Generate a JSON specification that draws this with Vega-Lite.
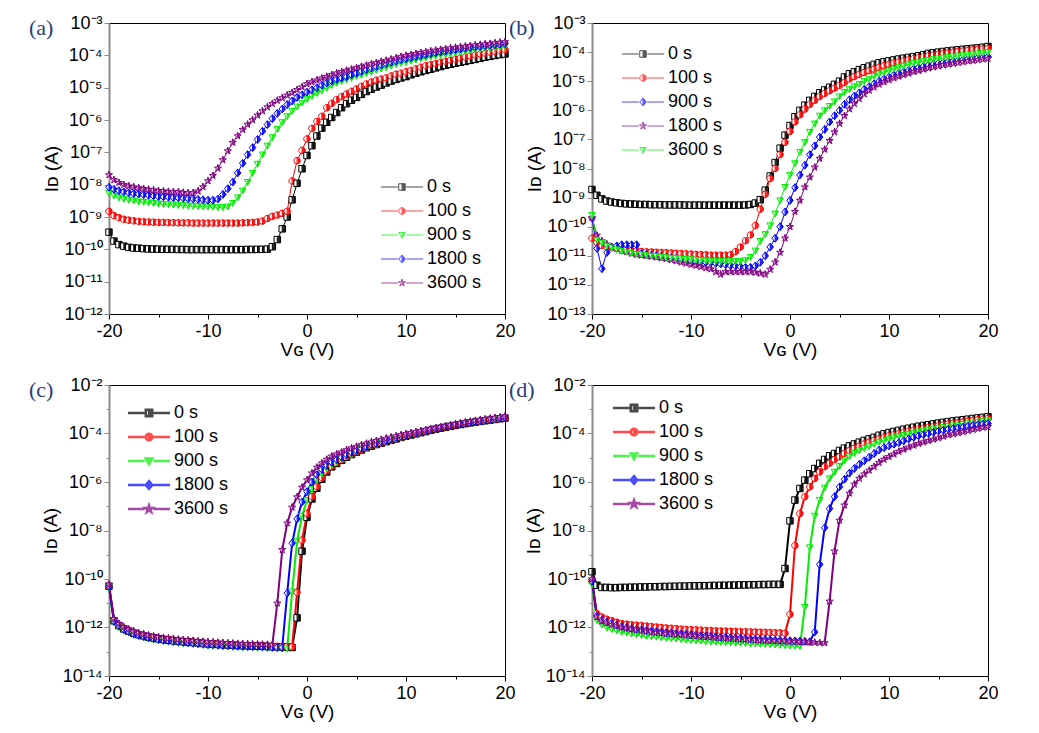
{
"$schema": "https://vega.github.io/schema/vega-lite/v6.json",
"background": "white",
"padding": {"left": 28, "top": 13, "right": 5, "bottom": 5},
"config": {
 "font": "Liberation Sans",
 "view": {"stroke": "black", "strokeWidth": 1},
 "axis": {"labelFont": "Liberation Sans", "titleFont": "Liberation Sans", "labelColor": "black", "titleColor": "black", "titleFontWeight": "normal", "grid": false, "domainColor": "black", "tickColor": "black", "labelFlush": false, "labelOverlap": false},
 "axisX": {"labelFontSize": 18, "titleFontSize": 19, "labelPadding": 3, "titlePadding": 0},
 "axisY": {"labelFontSize": 18, "titleFontSize": 19, "tickSize": 5, "labelPadding": 2, "titlePadding": 2, "domainColor": "#8c8c8c", "domainWidth": 2, "tickColor": "#8c8c8c"},
 "legend": {"labelFont": "Liberation Sans", "labelFontSize": 18, "labelColor": "black", "padding": 0, "rowPadding": 6, "symbolSize": 42, "labelOffset": 16},
 "title": {"font": "Liberation Serif", "fontSize": 22, "fontWeight": "normal", "color": "#24407a", "anchor": "start", "baseline": "middle", "frame": "group"}
},
"datasets": {
"a": [
{"x":-20,"0 s":3.4e-10,"100 s":1.5e-9,"900 s":5.5e-9,"1800 s":8.3e-9,"3600 s":2e-8},
{"x":-19.5,"0 s":1.8e-10,"100 s":1.1e-9,"900 s":4.6e-9,"1800 s":7.2e-9,"3600 s":1.4e-8},
{"x":-19,"0 s":1.4e-10,"100 s":9.5e-10,"900 s":4e-9,"1800 s":6.5e-9,"3600 s":1.15e-8},
{"x":-18.5,"0 s":1.25e-10,"100 s":8.5e-10,"900 s":3.6e-9,"1800 s":6e-9,"3600 s":1e-8},
{"x":-18,"0 s":1.15e-10,"100 s":8e-10,"900 s":3.4e-9,"1800 s":5.6e-9,"3600 s":9e-9},
{"x":-17.5,"0 s":1.1e-10,"100 s":7.6e-10,"900 s":3.2e-9,"1800 s":5.3e-9,"3600 s":8.4e-9},
{"x":-17,"0 s":1.08e-10,"100 s":7.3e-10,"900 s":3e-9,"1800 s":5.1e-9,"3600 s":7.9e-9},
{"x":-16.5,"0 s":1.05e-10,"100 s":7.1e-10,"900 s":2.9e-9,"1800 s":4.9e-9,"3600 s":7.5e-9},
{"x":-16,"0 s":1.03e-10,"100 s":7e-10,"900 s":2.8e-9,"1800 s":4.7e-9,"3600 s":7.1e-9},
{"x":-15.5,"0 s":1.02e-10,"100 s":6.9e-10,"900 s":2.7e-9,"1800 s":4.5e-9,"3600 s":6.8e-9},
{"x":-15,"0 s":1.01e-10,"100 s":6.8e-10,"900 s":2.6e-9,"1800 s":4.3e-9,"3600 s":6.5e-9},
{"x":-14.5,"0 s":1e-10,"100 s":6.8e-10,"900 s":2.5e-9,"1800 s":4.2e-9,"3600 s":6.3e-9},
{"x":-14,"0 s":1e-10,"100 s":6.7e-10,"900 s":2.45e-9,"1800 s":4.1e-9,"3600 s":6.1e-9},
{"x":-13.5,"0 s":1e-10,"100 s":6.7e-10,"900 s":2.4e-9,"1800 s":4e-9,"3600 s":6e-9},
{"x":-13,"0 s":9.9e-11,"100 s":6.6e-10,"900 s":2.35e-9,"1800 s":3.9e-9,"3600 s":5.9e-9},
{"x":-12.5,"0 s":9.9e-11,"100 s":6.6e-10,"900 s":2.3e-9,"1800 s":3.8e-9,"3600 s":5.7e-9},
{"x":-12,"0 s":9.8e-11,"100 s":6.6e-10,"900 s":2.25e-9,"1800 s":3.7e-9,"3600 s":5.6e-9},
{"x":-11.5,"0 s":9.8e-11,"100 s":6.5e-10,"900 s":2.2e-9,"1800 s":3.6e-9,"3600 s":5.6e-9},
{"x":-11,"0 s":9.8e-11,"100 s":6.5e-10,"900 s":2.15e-9,"1800 s":3.5e-9,"3600 s":6.3e-9},
{"x":-10.5,"0 s":9.8e-11,"100 s":6.5e-10,"900 s":2.1e-9,"1800 s":3.4e-9,"3600 s":8.5e-9},
{"x":-10,"0 s":9.8e-11,"100 s":6.5e-10,"900 s":2.1e-9,"1800 s":3.3e-9,"3600 s":1.3e-8},
{"x":-9.5,"0 s":9.8e-11,"100 s":6.5e-10,"900 s":2.05e-9,"1800 s":3.3e-9,"3600 s":1.9e-8},
{"x":-9,"0 s":9.8e-11,"100 s":6.5e-10,"900 s":2e-9,"1800 s":3.6e-9,"3600 s":3.2e-8},
{"x":-8.5,"0 s":9.8e-11,"100 s":6.5e-10,"900 s":2e-9,"1800 s":5e-9,"3600 s":5.8e-8},
{"x":-8,"0 s":9.8e-11,"100 s":6.5e-10,"900 s":2.1e-9,"1800 s":7.5e-9,"3600 s":1.1e-7},
{"x":-7.5,"0 s":9.8e-11,"100 s":6.5e-10,"900 s":2.7e-9,"1800 s":1.2e-8,"3600 s":2e-7},
{"x":-7,"0 s":9.8e-11,"100 s":6.5e-10,"900 s":4e-9,"1800 s":2.3e-8,"3600 s":3.2e-7},
{"x":-6.5,"0 s":9.8e-11,"100 s":6.6e-10,"900 s":6.5e-9,"1800 s":4.6e-8,"3600 s":5e-7},
{"x":-6,"0 s":9.9e-11,"100 s":6.7e-10,"900 s":1.2e-8,"1800 s":8.5e-8,"3600 s":7.3e-7},
{"x":-5.5,"0 s":9.9e-11,"100 s":6.8e-10,"900 s":2.3e-8,"1800 s":1.4e-7,"3600 s":1e-6},
{"x":-5,"0 s":1e-10,"100 s":7e-10,"900 s":4.4e-8,"1800 s":2.5e-7,"3600 s":1.4e-6},
{"x":-4.5,"0 s":1e-10,"100 s":7.5e-10,"900 s":8.5e-8,"1800 s":4.5e-7,"3600 s":1.9e-6},
{"x":-4,"0 s":1.02e-10,"100 s":9e-10,"900 s":1.6e-7,"1800 s":7.2e-7,"3600 s":2.5e-6},
{"x":-3.5,"0 s":1.2e-10,"100 s":1.05e-9,"900 s":2.9e-7,"1800 s":1.1e-6,"3600 s":3.2e-6},
{"x":-3,"0 s":2e-10,"100 s":1.15e-9,"900 s":5.2e-7,"1800 s":1.6e-6,"3600 s":4e-6},
{"x":-2.5,"0 s":4.3e-10,"100 s":1.3e-9,"900 s":8.5e-7,"1800 s":2.2e-6,"3600 s":4.8e-6},
{"x":-2,"0 s":1e-9,"100 s":1.5e-9,"900 s":1.3e-6,"1800 s":3e-6,"3600 s":5.8e-6},
{"x":-1.5,"0 s":3.4e-9,"100 s":1.3e-8,"900 s":1.9e-6,"1800 s":3.9e-6,"3600 s":7e-6},
{"x":-1,"0 s":1.1e-8,"100 s":5.5e-8,"900 s":2.6e-6,"1800 s":5e-6,"3600 s":8.6e-6},
{"x":-0.5,"0 s":3.1e-8,"100 s":1.15e-7,"900 s":3.4e-6,"1800 s":6e-6,"3600 s":1.05e-5},
{"x":0,"0 s":8e-8,"100 s":2.6e-7,"900 s":4.4e-6,"1800 s":7.3e-6,"3600 s":1.3e-5},
{"x":0.5,"0 s":1.6e-7,"100 s":5.5e-7,"900 s":5.5e-6,"1800 s":8.6e-6,"3600 s":1.5e-5},
{"x":1,"0 s":3.2e-7,"100 s":9e-7,"900 s":6.8e-6,"1800 s":1e-5,"3600 s":1.7e-5},
{"x":1.5,"0 s":5.6e-7,"100 s":1.3e-6,"900 s":8.2e-6,"1800 s":1.2e-5,"3600 s":1.95e-5},
{"x":2,"0 s":8.5e-7,"100 s":2.4e-6,"900 s":1e-5,"1800 s":1.4e-5,"3600 s":2.2e-5},
{"x":2.5,"0 s":1.2e-6,"100 s":3.3e-6,"900 s":1.2e-5,"1800 s":1.6e-5,"3600 s":2.5e-5},
{"x":3,"0 s":1.7e-6,"100 s":4.3e-6,"900 s":1.4e-5,"1800 s":1.8e-5,"3600 s":2.8e-5},
{"x":3.5,"0 s":2.4e-6,"100 s":5.3e-6,"900 s":1.6e-5,"1800 s":2e-5,"3600 s":3.1e-5},
{"x":4,"0 s":3.2e-6,"100 s":6.4e-6,"900 s":1.8e-5,"1800 s":2.2e-5,"3600 s":3.4e-5},
{"x":4.5,"0 s":4.1e-6,"100 s":7.7e-6,"900 s":2e-5,"1800 s":2.5e-5,"3600 s":3.7e-5},
{"x":5,"0 s":5e-6,"100 s":9.2e-6,"900 s":2.3e-5,"1800 s":2.8e-5,"3600 s":4.1e-5},
{"x":5.5,"0 s":6.2e-6,"100 s":1.1e-5,"900 s":2.5e-5,"1800 s":3.2e-5,"3600 s":4.5e-5},
{"x":6,"0 s":7.6e-6,"100 s":1.3e-5,"900 s":2.8e-5,"1800 s":3.6e-5,"3600 s":4.9e-5},
{"x":6.5,"0 s":9e-6,"100 s":1.5e-5,"900 s":3.1e-5,"1800 s":4e-5,"3600 s":5.4e-5},
{"x":7,"0 s":1.05e-5,"100 s":1.7e-5,"900 s":3.5e-5,"1800 s":4.5e-5,"3600 s":5.9e-5},
{"x":7.5,"0 s":1.2e-5,"100 s":1.85e-5,"900 s":3.9e-5,"1800 s":5e-5,"3600 s":6.4e-5},
{"x":8,"0 s":1.4e-5,"100 s":2e-5,"900 s":4.3e-5,"1800 s":5.5e-5,"3600 s":6.9e-5},
{"x":8.5,"0 s":1.6e-5,"100 s":2.3e-5,"900 s":4.8e-5,"1800 s":6.1e-5,"3600 s":7.5e-5},
{"x":9,"0 s":1.8e-5,"100 s":2.6e-5,"900 s":5.3e-5,"1800 s":6.7e-5,"3600 s":8.2e-5},
{"x":9.5,"0 s":2e-5,"100 s":2.8e-5,"900 s":5.8e-5,"1800 s":7.3e-5,"3600 s":9e-5},
{"x":10,"0 s":2.2e-5,"100 s":3.1e-5,"900 s":6.2e-5,"1800 s":7.9e-5,"3600 s":9.8e-5},
{"x":10.5,"0 s":2.5e-5,"100 s":3.4e-5,"900 s":6.7e-5,"1800 s":8.5e-5,"3600 s":1.05e-4},
{"x":11,"0 s":2.8e-5,"100 s":3.8e-5,"900 s":7.3e-5,"1800 s":9.1e-5,"3600 s":1.12e-4},
{"x":11.5,"0 s":3.1e-5,"100 s":4.3e-5,"900 s":7.9e-5,"1800 s":9.8e-5,"3600 s":1.2e-4},
{"x":12,"0 s":3.4e-5,"100 s":4.8e-5,"900 s":8.5e-5,"1800 s":1.05e-4,"3600 s":1.27e-4},
{"x":12.5,"0 s":3.7e-5,"100 s":5.2e-5,"900 s":9e-5,"1800 s":1.12e-4,"3600 s":1.35e-4},
{"x":13,"0 s":4.1e-5,"100 s":5.6e-5,"900 s":9.6e-5,"1800 s":1.2e-4,"3600 s":1.43e-4},
{"x":13.5,"0 s":4.5e-5,"100 s":6.1e-5,"900 s":1.02e-4,"1800 s":1.27e-4,"3600 s":1.5e-4},
{"x":14,"0 s":4.9e-5,"100 s":6.6e-5,"900 s":1.08e-4,"1800 s":1.35e-4,"3600 s":1.58e-4},
{"x":14.5,"0 s":5.3e-5,"100 s":7.1e-5,"900 s":1.14e-4,"1800 s":1.43e-4,"3600 s":1.66e-4},
{"x":15,"0 s":5.7e-5,"100 s":7.6e-5,"900 s":1.2e-4,"1800 s":1.5e-4,"3600 s":1.74e-4},
{"x":15.5,"0 s":6.1e-5,"100 s":8.2e-5,"900 s":1.27e-4,"1800 s":1.58e-4,"3600 s":1.82e-4},
{"x":16,"0 s":6.5e-5,"100 s":8.9e-5,"900 s":1.35e-4,"1800 s":1.66e-4,"3600 s":1.9e-4},
{"x":16.5,"0 s":7e-5,"100 s":9.5e-5,"900 s":1.42e-4,"1800 s":1.74e-4,"3600 s":1.98e-4},
{"x":17,"0 s":7.5e-5,"100 s":1.02e-4,"900 s":1.5e-4,"1800 s":1.82e-4,"3600 s":2.06e-4},
{"x":17.5,"0 s":8.1e-5,"100 s":1.1e-4,"900 s":1.58e-4,"1800 s":1.9e-4,"3600 s":2.14e-4},
{"x":18,"0 s":8.8e-5,"100 s":1.17e-4,"900 s":1.66e-4,"1800 s":1.98e-4,"3600 s":2.22e-4},
{"x":18.5,"0 s":9.3e-5,"100 s":1.25e-4,"900 s":1.73e-4,"1800 s":2.06e-4,"3600 s":2.3e-4},
{"x":19,"0 s":9.9e-5,"100 s":1.33e-4,"900 s":1.8e-4,"1800 s":2.14e-4,"3600 s":2.4e-4},
{"x":19.5,"0 s":1.05e-4,"100 s":1.41e-4,"900 s":1.87e-4,"1800 s":2.22e-4,"3600 s":2.5e-4},
{"x":20,"0 s":1.1e-4,"100 s":1.5e-4,"900 s":1.95e-4,"1800 s":2.3e-4,"3600 s":2.6e-4}
],
"b": [
{"x":-20,"0 s":1.9e-9,"100 s":4e-11,"900 s":2e-10,"1800 s":2e-10,"3600 s":2.5e-10},
{"x":-19.5,"0 s":1.2e-9,"100 s":2.8e-11,"900 s":1.8e-11,"1800 s":5e-11,"3600 s":3.5e-11},
{"x":-19,"0 s":9e-10,"100 s":2.3e-11,"900 s":3.6e-12,"1800 s":3.2e-11,"3600 s":2.8e-11},
{"x":-18.5,"0 s":7.6e-10,"100 s":2e-11,"900 s":1.3e-11,"1800 s":2.5e-11,"3600 s":2.2e-11},
{"x":-18,"0 s":7e-10,"100 s":1.9e-11,"900 s":2e-11,"1800 s":2e-11,"3600 s":1.9e-11},
{"x":-17.5,"0 s":6.6e-10,"100 s":1.8e-11,"900 s":2.2e-11,"1800 s":1.75e-11,"3600 s":1.65e-11},
{"x":-17,"0 s":6.3e-10,"100 s":1.7e-11,"900 s":2.4e-11,"1800 s":1.5e-11,"3600 s":1.45e-11},
{"x":-16.5,"0 s":6.1e-10,"100 s":1.6e-11,"900 s":2.4e-11,"1800 s":1.35e-11,"3600 s":1.35e-11},
{"x":-16,"0 s":6e-10,"100 s":1.5e-11,"900 s":2.4e-11,"1800 s":1.2e-11,"3600 s":1.25e-11},
{"x":-15.5,"0 s":5.9e-10,"100 s":1.45e-11,"900 s":2.4e-11,"1800 s":1.1e-11,"3600 s":1.15e-11},
{"x":-15,"0 s":5.8e-10,"100 s":1.4e-11,"900 s":1.2e-11,"1800 s":1.05e-11,"3600 s":1.1e-11},
{"x":-14.5,"0 s":5.8e-10,"100 s":1.37e-11,"900 s":1.1e-11,"1800 s":1e-11,"3600 s":1.05e-11},
{"x":-14,"0 s":5.7e-10,"100 s":1.35e-11,"900 s":1.05e-11,"1800 s":9.5e-12,"3600 s":1e-11},
{"x":-13.5,"0 s":5.7e-10,"100 s":1.32e-11,"900 s":1e-11,"1800 s":9e-12,"3600 s":9.6e-12},
{"x":-13,"0 s":5.7e-10,"100 s":1.3e-11,"900 s":9.5e-12,"1800 s":8.5e-12,"3600 s":9.3e-12},
{"x":-12.5,"0 s":5.6e-10,"100 s":1.27e-11,"900 s":9e-12,"1800 s":7.8e-12,"3600 s":8.9e-12},
{"x":-12,"0 s":5.6e-10,"100 s":1.25e-11,"900 s":8.5e-12,"1800 s":7.2e-12,"3600 s":8.5e-12},
{"x":-11.5,"0 s":5.6e-10,"100 s":1.22e-11,"900 s":8e-12,"1800 s":6.6e-12,"3600 s":8.2e-12},
{"x":-11,"0 s":5.6e-10,"100 s":1.2e-11,"900 s":7.5e-12,"1800 s":6e-12,"3600 s":8e-12},
{"x":-10.5,"0 s":5.5e-10,"100 s":1.17e-11,"900 s":7.1e-12,"1800 s":5.5e-12,"3600 s":7.7e-12},
{"x":-10,"0 s":5.5e-10,"100 s":1.15e-11,"900 s":6.8e-12,"1800 s":5e-12,"3600 s":7.5e-12},
{"x":-9.5,"0 s":5.5e-10,"100 s":1.12e-11,"900 s":6.5e-12,"1800 s":4.6e-12,"3600 s":7.2e-12},
{"x":-9,"0 s":5.5e-10,"100 s":1.1e-11,"900 s":6.2e-12,"1800 s":4.2e-12,"3600 s":7e-12},
{"x":-8.5,"0 s":5.5e-10,"100 s":1.08e-11,"900 s":6e-12,"1800 s":3.8e-12,"3600 s":6.8e-12},
{"x":-8,"0 s":5.5e-10,"100 s":1.05e-11,"900 s":5.8e-12,"1800 s":3.5e-12,"3600 s":6.7e-12},
{"x":-7.5,"0 s":5.5e-10,"100 s":1.05e-11,"900 s":5.5e-12,"1800 s":2.8e-12,"3600 s":6.6e-12},
{"x":-7,"0 s":5.5e-10,"100 s":1.05e-11,"900 s":5.2e-12,"1800 s":2.3e-12,"3600 s":6.5e-12},
{"x":-6.5,"0 s":5.5e-10,"100 s":1.05e-11,"900 s":4.9e-12,"1800 s":2.8e-12,"3600 s":6.5e-12},
{"x":-6,"0 s":5.5e-10,"100 s":1.1e-11,"900 s":4.6e-12,"1800 s":2.8e-12,"3600 s":6.5e-12},
{"x":-5.5,"0 s":5.5e-10,"100 s":1.4e-11,"900 s":4.4e-12,"1800 s":2.8e-12,"3600 s":6.5e-12},
{"x":-5,"0 s":5.5e-10,"100 s":2e-11,"900 s":4.2e-12,"1800 s":2.8e-12,"3600 s":6.6e-12},
{"x":-4.5,"0 s":5.6e-10,"100 s":3.3e-11,"900 s":4e-12,"1800 s":2.8e-12,"3600 s":7e-12},
{"x":-4,"0 s":5.8e-10,"100 s":5.2e-11,"900 s":4e-12,"1800 s":2.8e-12,"3600 s":9e-12},
{"x":-3.5,"0 s":6.5e-10,"100 s":1.1e-10,"900 s":4.5e-12,"1800 s":2.7e-12,"3600 s":1.5e-11},
{"x":-3,"0 s":8.5e-10,"100 s":4e-10,"900 s":6e-12,"1800 s":2.5e-12,"3600 s":3.2e-11},
{"x":-2.5,"0 s":1.8e-9,"100 s":1.3e-9,"900 s":1e-11,"1800 s":2.3e-12,"3600 s":5.5e-11},
{"x":-2,"0 s":5.5e-9,"100 s":4.5e-9,"900 s":2e-11,"1800 s":3.4e-12,"3600 s":1.1e-10},
{"x":-1.5,"0 s":1.6e-8,"100 s":1e-8,"900 s":4e-11,"1800 s":6e-12,"3600 s":2.8e-10},
{"x":-1,"0 s":5e-8,"100 s":3e-8,"900 s":1e-10,"1800 s":1.3e-11,"3600 s":8e-10},
{"x":-0.5,"0 s":1.4e-7,"100 s":8e-8,"900 s":3.2e-10,"1800 s":4e-11,"3600 s":2.3e-9},
{"x":0,"0 s":3e-7,"100 s":1.9e-7,"900 s":8e-10,"1800 s":1e-10,"3600 s":6e-9},
{"x":0.5,"0 s":6e-7,"100 s":4e-7,"900 s":2.2e-9,"1800 s":3.3e-10,"3600 s":1.5e-8},
{"x":1,"0 s":1e-6,"100 s":7e-7,"900 s":6e-9,"1800 s":8e-10,"3600 s":3.7e-8},
{"x":1.5,"0 s":1.5e-6,"100 s":1.1e-6,"900 s":1.3e-8,"1800 s":2.3e-9,"3600 s":8e-8},
{"x":2,"0 s":2.2e-6,"100 s":1.6e-6,"900 s":3e-8,"1800 s":5e-9,"3600 s":1.8e-7},
{"x":2.5,"0 s":3e-6,"100 s":2.2e-6,"900 s":6e-8,"1800 s":1.1e-8,"3600 s":3.5e-7},
{"x":3,"0 s":4e-6,"100 s":3e-6,"900 s":1.2e-7,"1800 s":2.2e-8,"3600 s":6.5e-7},
{"x":3.5,"0 s":5e-6,"100 s":3.8e-6,"900 s":2.2e-7,"1800 s":4.5e-8,"3600 s":1e-6},
{"x":4,"0 s":6.2e-6,"100 s":4.7e-6,"900 s":4e-7,"1800 s":9e-8,"3600 s":1.4e-6},
{"x":4.5,"0 s":7.8e-6,"100 s":5.8e-6,"900 s":6.5e-7,"1800 s":1.8e-7,"3600 s":2e-6},
{"x":5,"0 s":1e-5,"100 s":7.2e-6,"900 s":1e-6,"1800 s":3.5e-7,"3600 s":3e-6},
{"x":5.5,"0 s":1.4e-5,"100 s":9e-6,"900 s":1.6e-6,"1800 s":6.5e-7,"3600 s":4.2e-6},
{"x":6,"0 s":1.8e-5,"100 s":1.2e-5,"900 s":2.3e-6,"1800 s":1.1e-6,"3600 s":5.3e-6},
{"x":6.5,"0 s":2.1e-5,"100 s":1.45e-5,"900 s":3.1e-6,"1800 s":1.7e-6,"3600 s":6.6e-6},
{"x":7,"0 s":2.5e-5,"100 s":1.7e-5,"900 s":4e-6,"1800 s":2.5e-6,"3600 s":8e-6},
{"x":7.5,"0 s":2.9e-5,"100 s":2e-5,"900 s":5.2e-6,"1800 s":3.6e-6,"3600 s":1e-5},
{"x":8,"0 s":3.3e-5,"100 s":2.3e-5,"900 s":6.5e-6,"1800 s":4.8e-6,"3600 s":1.2e-5},
{"x":8.5,"0 s":3.8e-5,"100 s":2.6e-5,"900 s":8.2e-6,"1800 s":6.2e-6,"3600 s":1.5e-5},
{"x":9,"0 s":4.3e-5,"100 s":3e-5,"900 s":1e-5,"1800 s":7.8e-6,"3600 s":1.8e-5},
{"x":9.5,"0 s":4.7e-5,"100 s":3.4e-5,"900 s":1.2e-5,"1800 s":9.3e-6,"3600 s":2e-5},
{"x":10,"0 s":5e-5,"100 s":3.8e-5,"900 s":1.4e-5,"1800 s":1.1e-5,"3600 s":2.3e-5},
{"x":10.5,"0 s":5.4e-5,"100 s":4.2e-5,"900 s":1.65e-5,"1800 s":1.28e-5,"3600 s":2.65e-5},
{"x":11,"0 s":5.8e-5,"100 s":4.6e-5,"900 s":1.9e-5,"1800 s":1.45e-5,"3600 s":3e-5},
{"x":11.5,"0 s":6.2e-5,"100 s":5e-5,"900 s":2.15e-5,"1800 s":1.65e-5,"3600 s":3.4e-5},
{"x":12,"0 s":6.6e-5,"100 s":5.5e-5,"900 s":2.4e-5,"1800 s":1.85e-5,"3600 s":3.8e-5},
{"x":12.5,"0 s":7e-5,"100 s":6e-5,"900 s":2.7e-5,"1800 s":2.1e-5,"3600 s":4.2e-5},
{"x":13,"0 s":7.5e-5,"100 s":6.5e-5,"900 s":3e-5,"1800 s":2.3e-5,"3600 s":4.6e-5},
{"x":13.5,"0 s":8.2e-5,"100 s":7e-5,"900 s":3.3e-5,"1800 s":2.55e-5,"3600 s":5e-5},
{"x":14,"0 s":9e-5,"100 s":7.5e-5,"900 s":3.6e-5,"1800 s":2.8e-5,"3600 s":5.3e-5},
{"x":14.5,"0 s":9.5e-5,"100 s":8e-5,"900 s":3.9e-5,"1800 s":3.05e-5,"3600 s":5.7e-5},
{"x":15,"0 s":1e-4,"100 s":8.5e-5,"900 s":4.2e-5,"1800 s":3.3e-5,"3600 s":6e-5},
{"x":15.5,"0 s":1.05e-4,"100 s":9e-5,"900 s":4.5e-5,"1800 s":3.55e-5,"3600 s":6.4e-5},
{"x":16,"0 s":1.1e-4,"100 s":9.5e-5,"900 s":4.8e-5,"1800 s":3.8e-5,"3600 s":6.8e-5},
{"x":16.5,"0 s":1.15e-4,"100 s":1e-4,"900 s":5e-5,"1800 s":4.05e-5,"3600 s":7.1e-5},
{"x":17,"0 s":1.2e-4,"100 s":1.05e-4,"900 s":5.3e-5,"1800 s":4.3e-5,"3600 s":7.5e-5},
{"x":17.5,"0 s":1.25e-4,"100 s":1.1e-4,"900 s":5.6e-5,"1800 s":4.6e-5,"3600 s":7.8e-5},
{"x":18,"0 s":1.3e-4,"100 s":1.15e-4,"900 s":5.9e-5,"1800 s":4.9e-5,"3600 s":8.2e-5},
{"x":18.5,"0 s":1.35e-4,"100 s":1.2e-4,"900 s":6.2e-5,"1800 s":5.1e-5,"3600 s":8.6e-5},
{"x":19,"0 s":1.4e-4,"100 s":1.25e-4,"900 s":6.5e-5,"1800 s":5.4e-5,"3600 s":9e-5},
{"x":19.5,"0 s":1.47e-4,"100 s":1.3e-4,"900 s":6.7e-5,"1800 s":5.7e-5,"3600 s":9.5e-5},
{"x":20,"0 s":1.55e-4,"100 s":1.35e-4,"900 s":7e-5,"1800 s":6e-5,"3600 s":1e-4}
],
"c": [
{"x":-20,"0 s":5e-11,"100 s":5e-11,"900 s":4.5e-11,"1800 s":5e-11,"3600 s":6e-11},
{"x":-19.5,"0 s":1.9e-12,"100 s":2e-12,"900 s":1.6e-12,"1800 s":1.8e-12,"3600 s":2.3e-12},
{"x":-19,"0 s":1.2e-12,"100 s":1.26e-12,"900 s":1.02e-12,"1800 s":1.14e-12,"3600 s":1.44e-12},
{"x":-18.5,"0 s":8.7e-13,"100 s":9.1e-13,"900 s":7.4e-13,"1800 s":8.3e-13,"3600 s":1.04e-12},
{"x":-18,"0 s":7e-13,"100 s":7.4e-13,"900 s":6e-13,"1800 s":6.7e-13,"3600 s":8.4e-13},
{"x":-17.5,"0 s":5.8e-13,"100 s":6.1e-13,"900 s":4.9e-13,"1800 s":5.5e-13,"3600 s":7e-13},
{"x":-17,"0 s":5e-13,"100 s":5.3e-13,"900 s":4.3e-13,"1800 s":4.8e-13,"3600 s":6e-13},
{"x":-16.5,"0 s":4.5e-13,"100 s":4.7e-13,"900 s":3.8e-13,"1800 s":4.3e-13,"3600 s":5.4e-13},
{"x":-16,"0 s":4e-13,"100 s":4.2e-13,"900 s":3.4e-13,"1800 s":3.8e-13,"3600 s":4.8e-13},
{"x":-15.5,"0 s":3.7e-13,"100 s":3.9e-13,"900 s":3.1e-13,"1800 s":3.5e-13,"3600 s":4.4e-13},
{"x":-15,"0 s":3.4e-13,"100 s":3.6e-13,"900 s":2.9e-13,"1800 s":3.2e-13,"3600 s":4.1e-13},
{"x":-14.5,"0 s":3.2e-13,"100 s":3.4e-13,"900 s":2.7e-13,"1800 s":3e-13,"3600 s":3.8e-13},
{"x":-14,"0 s":3e-13,"100 s":3.15e-13,"900 s":2.55e-13,"1800 s":2.85e-13,"3600 s":3.6e-13},
{"x":-13.5,"0 s":2.85e-13,"100 s":3e-13,"900 s":2.4e-13,"1800 s":2.7e-13,"3600 s":3.4e-13},
{"x":-13,"0 s":2.7e-13,"100 s":2.85e-13,"900 s":2.3e-13,"1800 s":2.55e-13,"3600 s":3.25e-13},
{"x":-12.5,"0 s":2.6e-13,"100 s":2.73e-13,"900 s":2.2e-13,"1800 s":2.47e-13,"3600 s":3.1e-13},
{"x":-12,"0 s":2.5e-13,"100 s":2.63e-13,"900 s":2.12e-13,"1800 s":2.38e-13,"3600 s":3e-13},
{"x":-11.5,"0 s":2.4e-13,"100 s":2.52e-13,"900 s":2.04e-13,"1800 s":2.28e-13,"3600 s":2.88e-13},
{"x":-11,"0 s":2.3e-13,"100 s":2.42e-13,"900 s":1.96e-13,"1800 s":2.19e-13,"3600 s":2.76e-13},
{"x":-10.5,"0 s":2.2e-13,"100 s":2.31e-13,"900 s":1.87e-13,"1800 s":2.09e-13,"3600 s":2.64e-13},
{"x":-10,"0 s":2.1e-13,"100 s":2.2e-13,"900 s":1.79e-13,"1800 s":2e-13,"3600 s":2.52e-13},
{"x":-9.5,"0 s":2.05e-13,"100 s":2.15e-13,"900 s":1.74e-13,"1800 s":1.95e-13,"3600 s":2.46e-13},
{"x":-9,"0 s":2e-13,"100 s":2.1e-13,"900 s":1.7e-13,"1800 s":1.9e-13,"3600 s":2.4e-13},
{"x":-8.5,"0 s":1.95e-13,"100 s":2.05e-13,"900 s":1.66e-13,"1800 s":1.85e-13,"3600 s":2.34e-13},
{"x":-8,"0 s":1.9e-13,"100 s":2e-13,"900 s":1.62e-13,"1800 s":1.8e-13,"3600 s":2.28e-13},
{"x":-7.5,"0 s":1.85e-13,"100 s":1.94e-13,"900 s":1.57e-13,"1800 s":1.76e-13,"3600 s":2.22e-13},
{"x":-7,"0 s":1.8e-13,"100 s":1.89e-13,"900 s":1.53e-13,"1800 s":1.71e-13,"3600 s":2.16e-13},
{"x":-6.5,"0 s":1.78e-13,"100 s":1.87e-13,"900 s":1.51e-13,"1800 s":1.69e-13,"3600 s":2.13e-13},
{"x":-6,"0 s":1.75e-13,"100 s":1.84e-13,"900 s":1.49e-13,"1800 s":1.66e-13,"3600 s":2.1e-13},
{"x":-5.5,"0 s":1.72e-13,"100 s":1.81e-13,"900 s":1.46e-13,"1800 s":1.63e-13,"3600 s":2.06e-13},
{"x":-5,"0 s":1.7e-13,"100 s":1.79e-13,"900 s":1.45e-13,"1800 s":1.62e-13,"3600 s":2.04e-13},
{"x":-4.5,"0 s":1.68e-13,"100 s":1.76e-13,"900 s":1.43e-13,"1800 s":1.6e-13,"3600 s":2e-13},
{"x":-4,"0 s":1.65e-13,"100 s":1.73e-13,"900 s":1.4e-13,"1800 s":1.57e-13,"3600 s":1.98e-13},
{"x":-3.5,"0 s":1.62e-13,"100 s":1.7e-13,"900 s":1.38e-13,"1800 s":1.54e-13,"3600 s":1.95e-13},
{"x":-3,"0 s":1.6e-13,"100 s":1.68e-13,"900 s":1.36e-13,"1800 s":1.52e-13,"3600 s":1e-11},
{"x":-2.5,"0 s":1.58e-13,"100 s":1.66e-13,"900 s":1.34e-13,"1800 s":1.5e-13,"3600 s":1.6e-9},
{"x":-2,"0 s":1.55e-13,"100 s":1.63e-13,"900 s":1.32e-13,"1800 s":2.6e-11,"3600 s":2e-8},
{"x":-1.5,"0 s":1.5e-13,"100 s":1.6e-13,"900 s":3e-11,"1800 s":3e-9,"3600 s":9e-8},
{"x":-1,"0 s":2.5e-12,"100 s":2.8e-11,"900 s":3.7e-9,"1800 s":3e-8,"3600 s":2.4e-7},
{"x":-0.5,"0 s":1.4e-9,"100 s":4e-9,"900 s":4e-8,"1800 s":1.5e-7,"3600 s":6e-7},
{"x":0,"0 s":3.5e-8,"100 s":5e-8,"900 s":1.8e-7,"1800 s":4e-7,"3600 s":1.2e-6},
{"x":0.5,"0 s":2e-7,"100 s":2.5e-7,"900 s":5e-7,"1800 s":1e-6,"3600 s":2.3e-6},
{"x":1,"0 s":5.5e-7,"100 s":6.5e-7,"900 s":1.2e-6,"1800 s":2e-6,"3600 s":4e-6},
{"x":1.5,"0 s":1.3e-6,"100 s":1.5e-6,"900 s":2.2e-6,"1800 s":3.3e-6,"3600 s":6e-6},
{"x":2,"0 s":2.6e-6,"100 s":2.9e-6,"900 s":3.5e-6,"1800 s":4.8e-6,"3600 s":8.5e-6},
{"x":2.5,"0 s":4.2e-6,"100 s":4.5e-6,"900 s":5e-6,"1800 s":6.5e-6,"3600 s":1.15e-5},
{"x":3,"0 s":5.8e-6,"100 s":6.2e-6,"900 s":6.6e-6,"1800 s":8.3e-6,"3600 s":1.4e-5},
{"x":3.5,"0 s":7.8e-6,"100 s":8.2e-6,"900 s":8.6e-6,"1800 s":1.05e-5,"3600 s":1.7e-5},
{"x":4,"0 s":1.05e-5,"100 s":1.1e-5,"900 s":1.12e-5,"1800 s":1.32e-5,"3600 s":2.1e-5},
{"x":4.5,"0 s":1.35e-5,"100 s":1.4e-5,"900 s":1.42e-5,"1800 s":1.65e-5,"3600 s":2.5e-5},
{"x":5,"0 s":1.7e-5,"100 s":1.76e-5,"900 s":1.78e-5,"1800 s":2e-5,"3600 s":2.9e-5},
{"x":5.5,"0 s":2.1e-5,"100 s":2.17e-5,"900 s":2.2e-5,"1800 s":2.4e-5,"3600 s":3.4e-5},
{"x":6,"0 s":2.6e-5,"100 s":2.7e-5,"900 s":2.7e-5,"1800 s":2.9e-5,"3600 s":3.9e-5},
{"x":6.5,"0 s":3e-5,"100 s":3.1e-5,"900 s":3.1e-5,"1800 s":3.4e-5,"3600 s":4.4e-5},
{"x":7,"0 s":3.5e-5,"100 s":3.6e-5,"900 s":3.6e-5,"1800 s":3.9e-5,"3600 s":5e-5},
{"x":7.5,"0 s":4e-5,"100 s":4.1e-5,"900 s":4.1e-5,"1800 s":4.5e-5,"3600 s":5.6e-5},
{"x":8,"0 s":4.6e-5,"100 s":4.7e-5,"900 s":4.7e-5,"1800 s":5.1e-5,"3600 s":6.3e-5},
{"x":8.5,"0 s":5.3e-5,"100 s":5.4e-5,"900 s":5.4e-5,"1800 s":5.8e-5,"3600 s":7e-5},
{"x":9,"0 s":6e-5,"100 s":6.2e-5,"900 s":6.1e-5,"1800 s":6.6e-5,"3600 s":7.8e-5},
{"x":9.5,"0 s":6.9e-5,"100 s":7.1e-5,"900 s":7e-5,"1800 s":7.5e-5,"3600 s":8.7e-5},
{"x":10,"0 s":7.8e-5,"100 s":8e-5,"900 s":7.9e-5,"1800 s":8.4e-5,"3600 s":9.6e-5},
{"x":10.5,"0 s":8.7e-5,"100 s":9e-5,"900 s":8.8e-5,"1800 s":9.4e-5,"3600 s":1.06e-4},
{"x":11,"0 s":9.7e-5,"100 s":1e-4,"900 s":9.8e-5,"1800 s":1.04e-4,"3600 s":1.17e-4},
{"x":11.5,"0 s":1.08e-4,"100 s":1.11e-4,"900 s":1.09e-4,"1800 s":1.15e-4,"3600 s":1.29e-4},
{"x":12,"0 s":1.2e-4,"100 s":1.23e-4,"900 s":1.21e-4,"1800 s":1.27e-4,"3600 s":1.42e-4},
{"x":12.5,"0 s":1.35e-4,"100 s":1.38e-4,"900 s":1.35e-4,"1800 s":1.42e-4,"3600 s":1.57e-4},
{"x":13,"0 s":1.5e-4,"100 s":1.53e-4,"900 s":1.5e-4,"1800 s":1.57e-4,"3600 s":1.73e-4},
{"x":13.5,"0 s":1.65e-4,"100 s":1.68e-4,"900 s":1.65e-4,"1800 s":1.73e-4,"3600 s":1.9e-4},
{"x":14,"0 s":1.8e-4,"100 s":1.84e-4,"900 s":1.8e-4,"1800 s":1.9e-4,"3600 s":2.08e-4},
{"x":14.5,"0 s":1.97e-4,"100 s":2e-4,"900 s":1.97e-4,"1800 s":2.07e-4,"3600 s":2.27e-4},
{"x":15,"0 s":2.15e-4,"100 s":2.2e-4,"900 s":2.15e-4,"1800 s":2.25e-4,"3600 s":2.47e-4},
{"x":15.5,"0 s":2.35e-4,"100 s":2.4e-4,"900 s":2.35e-4,"1800 s":2.45e-4,"3600 s":2.7e-4},
{"x":16,"0 s":2.55e-4,"100 s":2.6e-4,"900 s":2.55e-4,"1800 s":2.67e-4,"3600 s":2.93e-4},
{"x":16.5,"0 s":2.75e-4,"100 s":2.8e-4,"900 s":2.75e-4,"1800 s":2.88e-4,"3600 s":3.15e-4},
{"x":17,"0 s":2.95e-4,"100 s":3e-4,"900 s":2.95e-4,"1800 s":3.1e-4,"3600 s":3.4e-4},
{"x":17.5,"0 s":3.15e-4,"100 s":3.2e-4,"900 s":3.15e-4,"1800 s":3.32e-4,"3600 s":3.65e-4},
{"x":18,"0 s":3.35e-4,"100 s":3.42e-4,"900 s":3.35e-4,"1800 s":3.55e-4,"3600 s":3.9e-4},
{"x":18.5,"0 s":3.57e-4,"100 s":3.65e-4,"900 s":3.57e-4,"1800 s":3.8e-4,"3600 s":4.17e-4},
{"x":19,"0 s":3.8e-4,"100 s":3.88e-4,"900 s":3.8e-4,"1800 s":4.05e-4,"3600 s":4.45e-4},
{"x":19.5,"0 s":4.05e-4,"100 s":4.12e-4,"900 s":4.05e-4,"1800 s":4.3e-4,"3600 s":4.75e-4},
{"x":20,"0 s":4.3e-4,"100 s":4.4e-4,"900 s":4.3e-4,"1800 s":4.6e-4,"3600 s":5.1e-4}
],
"d": [
{"x":-20,"0 s":2e-10,"100 s":8e-11,"900 s":6e-11,"1800 s":8e-11,"3600 s":1e-10},
{"x":-19.5,"0 s":5.5e-11,"100 s":3.7e-12,"900 s":2e-12,"1800 s":3e-12,"3600 s":2.7e-12},
{"x":-19,"0 s":4.5e-11,"100 s":2.7e-12,"900 s":1.3e-12,"1800 s":2e-12,"3600 s":1.8e-12},
{"x":-18.5,"0 s":4.5e-11,"100 s":2.2e-12,"900 s":1e-12,"1800 s":1.7e-12,"3600 s":1.5e-12},
{"x":-18,"0 s":4.4e-11,"100 s":1.9e-12,"900 s":8.5e-13,"1800 s":1.5e-12,"3600 s":1.3e-12},
{"x":-17.5,"0 s":4.4e-11,"100 s":1.65e-12,"900 s":7.4e-13,"1800 s":1.3e-12,"3600 s":1.15e-12},
{"x":-17,"0 s":4.5e-11,"100 s":1.45e-12,"900 s":6.5e-13,"1800 s":1.1e-12,"3600 s":1e-12},
{"x":-16.5,"0 s":4.5e-11,"100 s":1.37e-12,"900 s":6e-13,"1800 s":1e-12,"3600 s":9.2e-13},
{"x":-16,"0 s":4.6e-11,"100 s":1.3e-12,"900 s":5.5e-13,"1800 s":9e-13,"3600 s":8.5e-13},
{"x":-15.5,"0 s":4.6e-11,"100 s":1.25e-12,"900 s":5.1e-13,"1800 s":8.5e-13,"3600 s":7.9e-13},
{"x":-15,"0 s":4.7e-11,"100 s":1.2e-12,"900 s":4.8e-13,"1800 s":8e-13,"3600 s":7.4e-13},
{"x":-14.5,"0 s":4.7e-11,"100 s":1.15e-12,"900 s":4.5e-13,"1800 s":7.5e-13,"3600 s":6.9e-13},
{"x":-14,"0 s":4.8e-11,"100 s":1.1e-12,"900 s":4.3e-13,"1800 s":7e-13,"3600 s":6.5e-13},
{"x":-13.5,"0 s":4.8e-11,"100 s":1.05e-12,"900 s":4.1e-13,"1800 s":6.7e-13,"3600 s":6.1e-13},
{"x":-13,"0 s":4.9e-11,"100 s":1e-12,"900 s":3.9e-13,"1800 s":6.4e-13,"3600 s":5.8e-13},
{"x":-12.5,"0 s":4.9e-11,"100 s":9.6e-13,"900 s":3.75e-13,"1800 s":6.1e-13,"3600 s":5.5e-13},
{"x":-12,"0 s":5e-11,"100 s":9.3e-13,"900 s":3.6e-13,"1800 s":5.8e-13,"3600 s":5.3e-13},
{"x":-11.5,"0 s":5e-11,"100 s":9e-13,"900 s":3.45e-13,"1800 s":5.6e-13,"3600 s":5.1e-13},
{"x":-11,"0 s":5.1e-11,"100 s":8.6e-13,"900 s":3.3e-13,"1800 s":5.4e-13,"3600 s":4.9e-13},
{"x":-10.5,"0 s":5.1e-11,"100 s":8.3e-13,"900 s":3.15e-13,"1800 s":5.2e-13,"3600 s":4.7e-13},
{"x":-10,"0 s":5.2e-11,"100 s":8.1e-13,"900 s":3e-13,"1800 s":5e-13,"3600 s":4.6e-13},
{"x":-9.5,"0 s":5.2e-11,"100 s":8e-13,"900 s":2.9e-13,"1800 s":4.8e-13,"3600 s":4.4e-13},
{"x":-9,"0 s":5.3e-11,"100 s":7.8e-13,"900 s":2.8e-13,"1800 s":4.6e-13,"3600 s":4.2e-13},
{"x":-8.5,"0 s":5.3e-11,"100 s":7.6e-13,"900 s":2.7e-13,"1800 s":4.45e-13,"3600 s":4.1e-13},
{"x":-8,"0 s":5.4e-11,"100 s":7.5e-13,"900 s":2.6e-13,"1800 s":4.3e-13,"3600 s":4e-13},
{"x":-7.5,"0 s":5.4e-11,"100 s":7.3e-13,"900 s":2.55e-13,"1800 s":4.15e-13,"3600 s":3.85e-13},
{"x":-7,"0 s":5.5e-11,"100 s":7.2e-13,"900 s":2.5e-13,"1800 s":4e-13,"3600 s":3.7e-13},
{"x":-6.5,"0 s":5.5e-11,"100 s":7.1e-13,"900 s":2.45e-13,"1800 s":3.9e-13,"3600 s":3.6e-13},
{"x":-6,"0 s":5.6e-11,"100 s":7e-13,"900 s":2.4e-13,"1800 s":3.8e-13,"3600 s":3.5e-13},
{"x":-5.5,"0 s":5.6e-11,"100 s":6.9e-13,"900 s":2.35e-13,"1800 s":3.7e-13,"3600 s":3.4e-13},
{"x":-5,"0 s":5.7e-11,"100 s":6.8e-13,"900 s":2.3e-13,"1800 s":3.6e-13,"3600 s":3.3e-13},
{"x":-4.5,"0 s":5.7e-11,"100 s":6.7e-13,"900 s":2.25e-13,"1800 s":3.5e-13,"3600 s":3.2e-13},
{"x":-4,"0 s":5.8e-11,"100 s":6.6e-13,"900 s":2.2e-13,"1800 s":3.4e-13,"3600 s":3.1e-13},
{"x":-3.5,"0 s":5.8e-11,"100 s":6.5e-13,"900 s":2.15e-13,"1800 s":3.3e-13,"3600 s":3e-13},
{"x":-3,"0 s":5.9e-11,"100 s":6.4e-13,"900 s":2.1e-13,"1800 s":3.2e-13,"3600 s":2.95e-13},
{"x":-2.5,"0 s":5.9e-11,"100 s":6.3e-13,"900 s":2.05e-13,"1800 s":3.15e-13,"3600 s":2.9e-13},
{"x":-2,"0 s":6e-11,"100 s":6.2e-13,"900 s":2e-13,"1800 s":3.1e-13,"3600 s":2.85e-13},
{"x":-1.5,"0 s":6e-11,"100 s":6.1e-13,"900 s":1.95e-13,"1800 s":3e-13,"3600 s":2.8e-13},
{"x":-1,"0 s":6e-11,"100 s":6e-13,"900 s":1.9e-13,"1800 s":2.95e-13,"3600 s":2.75e-13},
{"x":-0.5,"0 s":2.7e-10,"100 s":5.8e-13,"900 s":1.85e-13,"1800 s":2.9e-13,"3600 s":2.7e-13},
{"x":0,"0 s":2.5e-8,"100 s":3.5e-12,"900 s":1.8e-13,"1800 s":2.85e-13,"3600 s":2.65e-13},
{"x":0.5,"0 s":1.8e-7,"100 s":2.4e-9,"900 s":1.75e-13,"1800 s":2.8e-13,"3600 s":2.6e-13},
{"x":1,"0 s":5.4e-7,"100 s":5e-8,"900 s":1.7e-13,"1800 s":2.75e-13,"3600 s":2.55e-13},
{"x":1.5,"0 s":1.2e-6,"100 s":2.5e-7,"900 s":7e-12,"1800 s":2.7e-13,"3600 s":2.5e-13},
{"x":2,"0 s":2.2e-6,"100 s":6.3e-7,"900 s":2e-9,"1800 s":2.6e-13,"3600 s":2.45e-13},
{"x":2.5,"0 s":3.6e-6,"100 s":1.4e-6,"900 s":4e-8,"1800 s":6.5e-13,"3600 s":2.4e-13},
{"x":3,"0 s":5.9e-6,"100 s":2.6e-6,"900 s":1.8e-7,"1800 s":4e-10,"3600 s":2.35e-13},
{"x":3.5,"0 s":8.5e-6,"100 s":4.3e-6,"900 s":5.8e-7,"1800 s":1.3e-8,"3600 s":2.3e-13},
{"x":4,"0 s":1.2e-5,"100 s":6e-6,"900 s":1.4e-6,"1800 s":8e-8,"3600 s":1.2e-11},
{"x":4.5,"0 s":1.5e-5,"100 s":8.5e-6,"900 s":2.6e-6,"1800 s":2.5e-7,"3600 s":1.4e-9},
{"x":5,"0 s":2e-5,"100 s":1.1e-5,"900 s":4.5e-6,"1800 s":6.3e-7,"3600 s":2.6e-8},
{"x":5.5,"0 s":2.5e-5,"100 s":1.5e-5,"900 s":7.5e-6,"1800 s":1.3e-6,"3600 s":1.1e-7},
{"x":6,"0 s":3.1e-5,"100 s":2e-5,"900 s":1.15e-5,"1800 s":2.3e-6,"3600 s":3.4e-7},
{"x":6.5,"0 s":3.7e-5,"100 s":2.5e-5,"900 s":1.55e-5,"1800 s":3.6e-6,"3600 s":8e-7},
{"x":7,"0 s":4.4e-5,"100 s":3e-5,"900 s":2e-5,"1800 s":5.3e-6,"3600 s":1.4e-6},
{"x":7.5,"0 s":5.2e-5,"100 s":3.7e-5,"900 s":2.5e-5,"1800 s":7.5e-6,"3600 s":2.1e-6},
{"x":8,"0 s":6e-5,"100 s":4.4e-5,"900 s":3e-5,"1800 s":1.05e-5,"3600 s":3e-6},
{"x":8.5,"0 s":7e-5,"100 s":5.2e-5,"900 s":3.7e-5,"1800 s":1.5e-5,"3600 s":4.3e-6},
{"x":9,"0 s":8.5e-5,"100 s":6e-5,"900 s":4.5e-5,"1800 s":2.1e-5,"3600 s":6.3e-6},
{"x":9.5,"0 s":9.7e-5,"100 s":7e-5,"900 s":5.2e-5,"1800 s":2.6e-5,"3600 s":8.5e-6},
{"x":10,"0 s":1.1e-4,"100 s":8e-5,"900 s":6e-5,"1800 s":3.1e-5,"3600 s":1.1e-5},
{"x":10.5,"0 s":1.22e-4,"100 s":9e-5,"900 s":6.9e-5,"1800 s":3.6e-5,"3600 s":1.4e-5},
{"x":11,"0 s":1.35e-4,"100 s":1e-4,"900 s":7.8e-5,"1800 s":4.2e-5,"3600 s":1.8e-5},
{"x":11.5,"0 s":1.5e-4,"100 s":1.12e-4,"900 s":8.6e-5,"1800 s":5e-5,"3600 s":2.2e-5},
{"x":12,"0 s":1.65e-4,"100 s":1.25e-4,"900 s":9.5e-5,"1800 s":6e-5,"3600 s":2.7e-5},
{"x":12.5,"0 s":1.82e-4,"100 s":1.38e-4,"900 s":1.07e-4,"1800 s":7e-5,"3600 s":3.2e-5},
{"x":13,"0 s":2e-4,"100 s":1.5e-4,"900 s":1.2e-4,"1800 s":8e-5,"3600 s":3.8e-5},
{"x":13.5,"0 s":2.15e-4,"100 s":1.65e-4,"900 s":1.32e-4,"1800 s":9e-5,"3600 s":4.4e-5},
{"x":14,"0 s":2.3e-4,"100 s":1.8e-4,"900 s":1.45e-4,"1800 s":1e-4,"3600 s":5e-5},
{"x":14.5,"0 s":2.5e-4,"100 s":1.95e-4,"900 s":1.57e-4,"1800 s":1.12e-4,"3600 s":5.7e-5},
{"x":15,"0 s":2.7e-4,"100 s":2.1e-4,"900 s":1.7e-4,"1800 s":1.25e-4,"3600 s":6.5e-5},
{"x":15.5,"0 s":2.9e-4,"100 s":2.3e-4,"900 s":1.85e-4,"1800 s":1.37e-4,"3600 s":7.5e-5},
{"x":16,"0 s":3.1e-4,"100 s":2.5e-4,"900 s":2e-4,"1800 s":1.5e-4,"3600 s":8.7e-5},
{"x":16.5,"0 s":3.3e-4,"100 s":2.65e-4,"900 s":2.15e-4,"1800 s":1.6e-4,"3600 s":9.5e-5},
{"x":17,"0 s":3.5e-4,"100 s":2.8e-4,"900 s":2.3e-4,"1800 s":1.7e-4,"3600 s":1.05e-4},
{"x":17.5,"0 s":3.7e-4,"100 s":3e-4,"900 s":2.45e-4,"1800 s":1.85e-4,"3600 s":1.17e-4},
{"x":18,"0 s":3.9e-4,"100 s":3.2e-4,"900 s":2.6e-4,"1800 s":2e-4,"3600 s":1.3e-4},
{"x":18.5,"0 s":4.15e-4,"100 s":3.45e-4,"900 s":2.8e-4,"1800 s":2.15e-4,"3600 s":1.45e-4},
{"x":19,"0 s":4.4e-4,"100 s":3.7e-4,"900 s":3e-4,"1800 s":2.3e-4,"3600 s":1.6e-4},
{"x":19.5,"0 s":4.65e-4,"100 s":3.95e-4,"900 s":3.2e-4,"1800 s":2.45e-4,"3600 s":1.75e-4},
{"x":20,"0 s":4.9e-4,"100 s":4.2e-4,"900 s":3.4e-4,"1800 s":2.6e-4,"3600 s":1.9e-4}
]
},
"columns": 2,
"spacing": {"row": 71, "column": 87},
"bounds": "flush",
"resolve": {"scale": {"x": "independent", "y": "independent", "color": "independent", "shape": "independent"}, "axis": {"x": "independent", "y": "independent"}},
"concat": [
{
 "width": 396, "height": 291,
 "title": {"text": "(a)", "dx": -80, "dy": 13, "offset": -13, "frame": "group"},
 "data": {"name": "a"},
 "transform": [{"fold": ["0 s","100 s","900 s","1800 s","3600 s"], "as": ["series","ID"]}],
 "encoding": {
  "x": {"field": "x", "type": "quantitative", "scale": {"domain": [-20,20], "nice": false, "zero": false}, "axis": {"title": "Vɢ (V)", "values": [-20,-15,-10,-5,0,5,10,15,20], "labelExpr": "datum.value % 10 == 0 ? replace(datum.label, '−', '-') : ''", "tickSize": {"condition": {"test": "datum.value % 10 != 0", "value": 3}, "value": 5}}},
  "y": {"field": "ID", "type": "quantitative", "scale": {"type": "log", "domain": [1e-12, 1e-3], "nice": false}, "axis": {"title": "Iᴅ (A)", "values": [1e-12,1e-11,1e-10,1e-9,1e-8,1e-7,1e-6,1e-5,1e-4,1e-3], "labelExpr": "'10⁻' + (round(-log(datum.value)/LN10) >= 10 ? '¹' : '') + substring('⁰¹²³⁴⁵⁶⁷⁸⁹', round(-log(datum.value)/LN10) % 10, round(-log(datum.value)/LN10) % 10 + 1)"}}
 },
 "layer": [
  {"mark": {"type": "line", "strokeWidth": 1}, "encoding": {"color": {"field": "series", "type": "nominal", "scale": {"domain": ["0 s","100 s","900 s","1800 s","3600 s"], "range": ["#000000","#ff0000","#00ee00","#0000ff","#800080"]}, "legend": null}}},
  {"mark": {"type": "point", "filled": false, "fill": "white", "size": 42, "strokeWidth": 1, "opacity": 1}, "encoding": {"color": {"field": "series", "type": "nominal", "scale": {"domain": ["0 s","100 s","900 s","1800 s","3600 s"], "range": ["#000000","#ff0000","#00ee00","#0000ff","#800080"]}, "legend": null}, "shape": {"field": "series", "type": "nominal", "scale": {"domain": ["0 s","100 s","900 s","1800 s","3600 s"], "range": ["M-1,-1H1V1H-1ZM0,-1V1M0.25,-1V1M0.5,-1V1M0.75,-1V1","M1,0A1,1,0,1,1,-1,0A1,1,0,1,1,1,0ZM0,-1V1M0.25,-0.97V0.97M0.5,-0.87V0.87M0.75,-0.66V0.66","M-1,-0.8H1L0,1ZM0,-0.8V1M0.25,-0.8V0.55M0.5,-0.8V0.1M0.75,-0.8V-0.35","M0,-1.2L1,0L0,1.2L-1,0ZM0,-1.2V1.2M0.25,-0.9V0.9M0.5,-0.6V0.6M0.75,-0.3V0.3","M0,-1.15L0.27,-0.37L1.09,-0.36L0.44,0.14L0.68,0.93L0,0.46L-0.68,0.93L-0.44,0.14L-1.09,-0.36L-0.27,-0.37ZM0,-1.15V0.46M0.2,-0.37V0.6M0.4,-0.37V0.2"]}, "legend": null}}},
  {"transform": [{"filter": "false"}], "mark": {"type": "point", "filled": false, "fill": "white", "size": 42, "strokeWidth": 1}, "encoding": {"color": {"field": "series", "type": "nominal", "scale": {"domain": ["0 s","100 s","900 s","1800 s","3600 s"], "range": ["#000000","#ff0000","#00ee00","#0000ff","#800080"]}, "legend": {"title": null, "orient": "none", "legendX": 284, "legendY": 155, "symbolStrokeWidth": 1}}, "shape": {"field": "series", "type": "nominal", "scale": {"domain": ["0 s","100 s","900 s","1800 s","3600 s"], "range": ["M-6.5,0H-1.3M1.3,0H6.5M-1,-1H1V1H-1ZM0,-1V1M0.25,-1V1M0.5,-1V1M0.75,-1V1","M-6.5,0H-1.3M1.3,0H6.5M1,0A1,1,0,1,1,-1,0A1,1,0,1,1,1,0ZM0,-1V1M0.25,-0.97V0.97M0.5,-0.87V0.87M0.75,-0.66V0.66","M-6.5,0H-1.3M1.3,0H6.5M-1,-0.8H1L0,1ZM0,-0.8V1M0.25,-0.8V0.55M0.5,-0.8V0.1M0.75,-0.8V-0.35","M-6.5,0H-1.3M1.3,0H6.5M0,-1.2L1,0L0,1.2L-1,0ZM0,-1.2V1.2M0.25,-0.9V0.9M0.5,-0.6V0.6M0.75,-0.3V0.3","M-6.5,0H-1.3M1.3,0H6.5M0,-1.15L0.27,-0.37L1.09,-0.36L0.44,0.14L0.68,0.93L0,0.46L-0.68,0.93L-0.44,0.14L-1.09,-0.36L-0.27,-0.37ZM0,-1.15V0.46M0.2,-0.37V0.6M0.4,-0.37V0.2"]}, "legend": {"title": null, "orient": "none", "legendX": 284, "legendY": 155, "symbolStrokeWidth": 1}}}}
 ],
 "resolve": {"scale": {"color": "independent", "shape": "independent"}}
},
{
 "width": 396, "height": 291,
 "title": {"text": "(b)", "dx": -83, "dy": 13, "offset": -13, "frame": "group"},
 "data": {"name": "b"},
 "transform": [{"fold": ["0 s","100 s","900 s","1800 s","3600 s"], "as": ["series","ID"]}],
 "encoding": {
  "x": {"field": "x", "type": "quantitative", "scale": {"domain": [-20,20], "nice": false, "zero": false}, "axis": {"title": "Vɢ (V)", "values": [-20,-15,-10,-5,0,5,10,15,20], "labelExpr": "datum.value % 10 == 0 ? replace(datum.label, '−', '-') : ''", "tickSize": {"condition": {"test": "datum.value % 10 != 0", "value": 3}, "value": 5}}},
  "y": {"field": "ID", "type": "quantitative", "scale": {"type": "log", "domain": [1e-13, 1e-3], "nice": false}, "axis": {"title": "Iᴅ (A)", "values": [1e-13,1e-12,1e-11,1e-10,1e-9,1e-8,1e-7,1e-6,1e-5,1e-4,1e-3], "labelExpr": "'10⁻' + (round(-log(datum.value)/LN10) >= 10 ? '¹' : '') + substring('⁰¹²³⁴⁵⁶⁷⁸⁹', round(-log(datum.value)/LN10) % 10, round(-log(datum.value)/LN10) % 10 + 1)"}}
 },
 "layer": [
  {"mark": {"type": "line", "strokeWidth": 1}, "encoding": {"color": {"field": "series", "type": "nominal", "scale": {"domain": ["0 s","100 s","900 s","1800 s","3600 s"], "range": ["#000000","#ff0000","#0000ff","#800080","#00ee00"]}, "legend": null}}},
  {"mark": {"type": "point", "filled": false, "fill": "white", "size": 42, "strokeWidth": 1, "opacity": 1}, "encoding": {"color": {"field": "series", "type": "nominal", "scale": {"domain": ["0 s","100 s","900 s","1800 s","3600 s"], "range": ["#000000","#ff0000","#0000ff","#800080","#00ee00"]}, "legend": null}, "shape": {"field": "series", "type": "nominal", "scale": {"domain": ["0 s","100 s","900 s","1800 s","3600 s"], "range": ["M-1,-1H1V1H-1ZM0,-1V1M0.25,-1V1M0.5,-1V1M0.75,-1V1","M1,0A1,1,0,1,1,-1,0A1,1,0,1,1,1,0ZM0,-1V1M0.25,-0.97V0.97M0.5,-0.87V0.87M0.75,-0.66V0.66","M0,-1.2L1,0L0,1.2L-1,0ZM0,-1.2V1.2M0.25,-0.9V0.9M0.5,-0.6V0.6M0.75,-0.3V0.3","M0,-1.15L0.27,-0.37L1.09,-0.36L0.44,0.14L0.68,0.93L0,0.46L-0.68,0.93L-0.44,0.14L-1.09,-0.36L-0.27,-0.37ZM0,-1.15V0.46M0.2,-0.37V0.6M0.4,-0.37V0.2","M-1,-0.8H1L0,1ZM0,-0.8V1M0.25,-0.8V0.55M0.5,-0.8V0.1M0.75,-0.8V-0.35"]}, "legend": null}}},
  {"transform": [{"filter": "false"}], "mark": {"type": "point", "filled": false, "fill": "white", "size": 42, "strokeWidth": 1}, "encoding": {"color": {"field": "series", "type": "nominal", "scale": {"domain": ["0 s","100 s","900 s","1800 s","3600 s"], "range": ["#000000","#ff0000","#0000ff","#800080","#00ee00"]}, "legend": {"title": null, "orient": "none", "legendX": 42, "legendY": 22, "symbolStrokeWidth": 1}}, "shape": {"field": "series", "type": "nominal", "scale": {"domain": ["0 s","100 s","900 s","1800 s","3600 s"], "range": ["M-6.5,0H-1.3M1.3,0H6.5M-1,-1H1V1H-1ZM0,-1V1M0.25,-1V1M0.5,-1V1M0.75,-1V1","M-6.5,0H-1.3M1.3,0H6.5M1,0A1,1,0,1,1,-1,0A1,1,0,1,1,1,0ZM0,-1V1M0.25,-0.97V0.97M0.5,-0.87V0.87M0.75,-0.66V0.66","M-6.5,0H-1.3M1.3,0H6.5M0,-1.2L1,0L0,1.2L-1,0ZM0,-1.2V1.2M0.25,-0.9V0.9M0.5,-0.6V0.6M0.75,-0.3V0.3","M-6.5,0H-1.3M1.3,0H6.5M0,-1.15L0.27,-0.37L1.09,-0.36L0.44,0.14L0.68,0.93L0,0.46L-0.68,0.93L-0.44,0.14L-1.09,-0.36L-0.27,-0.37ZM0,-1.15V0.46M0.2,-0.37V0.6M0.4,-0.37V0.2","M-6.5,0H-1.3M1.3,0H6.5M-1,-0.8H1L0,1ZM0,-0.8V1M0.25,-0.8V0.55M0.5,-0.8V0.1M0.75,-0.8V-0.35"]}, "legend": {"title": null, "orient": "none", "legendX": 42, "legendY": 22, "symbolStrokeWidth": 1}}}}
 ],
 "resolve": {"scale": {"color": "independent", "shape": "independent"}}
},
{
 "width": 396, "height": 291,
 "title": {"text": "(c)", "dx": -80, "dy": 13, "offset": -13, "frame": "group"},
 "data": {"name": "c"},
 "transform": [{"fold": ["0 s","100 s","900 s","1800 s","3600 s"], "as": ["series","ID"]}],
 "encoding": {
  "x": {"field": "x", "type": "quantitative", "scale": {"domain": [-20,20], "nice": false, "zero": false}, "axis": {"title": "Vɢ (V)", "values": [-20,-15,-10,-5,0,5,10,15,20], "labelExpr": "datum.value % 10 == 0 ? replace(datum.label, '−', '-') : ''", "tickSize": {"condition": {"test": "datum.value % 10 != 0", "value": 3}, "value": 5}}},
  "y": {"field": "ID", "type": "quantitative", "scale": {"type": "log", "domain": [1e-14, 1e-2], "nice": false}, "axis": {"title": "Iᴅ (A)", "values": [1e-14,1e-13,1e-12,1e-11,1e-10,1e-9,1e-8,1e-7,1e-6,1e-5,1e-4,1e-3,1e-2], "tickSize": {"condition": {"test": "round(-log(datum.value)/LN10) % 2 != 0", "value": 3}, "value": 5}, "labelExpr": "round(-log(datum.value)/LN10) % 2 != 0 ? '' : '10⁻' + (round(-log(datum.value)/LN10) >= 10 ? '¹' : '') + substring('⁰¹²³⁴⁵⁶⁷⁸⁹', round(-log(datum.value)/LN10) % 10, round(-log(datum.value)/LN10) % 10 + 1)"}}
 },
 "layer": [
  {"mark": {"type": "line", "strokeWidth": 2}, "encoding": {"color": {"field": "series", "type": "nominal", "scale": {"domain": ["0 s","100 s","900 s","1800 s","3600 s"], "range": ["#000000","#ff0000","#00ee00","#0000ff","#800080"]}, "legend": null}}},
  {"mark": {"type": "point", "filled": false, "fill": "white", "size": 42, "strokeWidth": 1, "opacity": 1}, "encoding": {"color": {"field": "series", "type": "nominal", "scale": {"domain": ["0 s","100 s","900 s","1800 s","3600 s"], "range": ["#000000","#ff0000","#00ee00","#0000ff","#800080"]}, "legend": null}, "shape": {"field": "series", "type": "nominal", "scale": {"domain": ["0 s","100 s","900 s","1800 s","3600 s"], "range": ["M-1,-1H1V1H-1ZM0,-1V1M0.25,-1V1M0.5,-1V1M0.75,-1V1","M1,0A1,1,0,1,1,-1,0A1,1,0,1,1,1,0ZM0,-1V1M0.25,-0.97V0.97M0.5,-0.87V0.87M0.75,-0.66V0.66","M-1,-0.8H1L0,1ZM0,-0.8V1M0.25,-0.8V0.55M0.5,-0.8V0.1M0.75,-0.8V-0.35","M0,-1.2L1,0L0,1.2L-1,0ZM0,-1.2V1.2M0.25,-0.9V0.9M0.5,-0.6V0.6M0.75,-0.3V0.3","M0,-1.15L0.27,-0.37L1.09,-0.36L0.44,0.14L0.68,0.93L0,0.46L-0.68,0.93L-0.44,0.14L-1.09,-0.36L-0.27,-0.37ZM0,-1.15V0.46M0.2,-0.37V0.6M0.4,-0.37V0.2"]}, "legend": null}}},
  {"transform": [{"filter": "false"}], "mark": {"type": "point", "filled": false, "fill": "white", "size": 42, "strokeWidth": 2.5}, "encoding": {"color": {"field": "series", "type": "nominal", "scale": {"domain": ["0 s","100 s","900 s","1800 s","3600 s"], "range": ["#000000","#ff0000","#00ee00","#0000ff","#800080"]}, "legend": {"title": null, "orient": "none", "legendX": 31, "legendY": 19, "symbolStrokeWidth": 2.5}}, "shape": {"field": "series", "type": "nominal", "scale": {"domain": ["0 s","100 s","900 s","1800 s","3600 s"], "range": ["M-6.5,0H-1.3M1.3,0H6.5M-1,-1H1V1H-1ZM0,-1V1M0.25,-1V1M0.5,-1V1M0.75,-1V1","M-6.5,0H-1.3M1.3,0H6.5M1,0A1,1,0,1,1,-1,0A1,1,0,1,1,1,0ZM0,-1V1M0.25,-0.97V0.97M0.5,-0.87V0.87M0.75,-0.66V0.66","M-6.5,0H-1.3M1.3,0H6.5M-1,-0.8H1L0,1ZM0,-0.8V1M0.25,-0.8V0.55M0.5,-0.8V0.1M0.75,-0.8V-0.35","M-6.5,0H-1.3M1.3,0H6.5M0,-1.2L1,0L0,1.2L-1,0ZM0,-1.2V1.2M0.25,-0.9V0.9M0.5,-0.6V0.6M0.75,-0.3V0.3","M-6.5,0H-1.3M1.3,0H6.5M0,-1.15L0.27,-0.37L1.09,-0.36L0.44,0.14L0.68,0.93L0,0.46L-0.68,0.93L-0.44,0.14L-1.09,-0.36L-0.27,-0.37ZM0,-1.15V0.46M0.2,-0.37V0.6M0.4,-0.37V0.2"]}, "legend": {"title": null, "orient": "none", "legendX": 31, "legendY": 19, "symbolStrokeWidth": 2.5}}}}
 ],
 "resolve": {"scale": {"color": "independent", "shape": "independent"}}
},
{
 "width": 396, "height": 291,
 "title": {"text": "(d)", "dx": -83, "dy": 13, "offset": -13, "frame": "group"},
 "data": {"name": "d"},
 "transform": [{"fold": ["0 s","100 s","900 s","1800 s","3600 s"], "as": ["series","ID"]}],
 "encoding": {
  "x": {"field": "x", "type": "quantitative", "scale": {"domain": [-20,20], "nice": false, "zero": false}, "axis": {"title": "Vɢ (V)", "values": [-20,-15,-10,-5,0,5,10,15,20], "labelExpr": "datum.value % 10 == 0 ? replace(datum.label, '−', '-') : ''", "tickSize": {"condition": {"test": "datum.value % 10 != 0", "value": 3}, "value": 5}}},
  "y": {"field": "ID", "type": "quantitative", "scale": {"type": "log", "domain": [1e-14, 1e-2], "nice": false}, "axis": {"title": "Iᴅ (A)", "values": [1e-14,1e-13,1e-12,1e-11,1e-10,1e-9,1e-8,1e-7,1e-6,1e-5,1e-4,1e-3,1e-2], "tickSize": {"condition": {"test": "round(-log(datum.value)/LN10) % 2 != 0", "value": 3}, "value": 5}, "labelExpr": "round(-log(datum.value)/LN10) % 2 != 0 ? '' : '10⁻' + (round(-log(datum.value)/LN10) >= 10 ? '¹' : '') + substring('⁰¹²³⁴⁵⁶⁷⁸⁹', round(-log(datum.value)/LN10) % 10, round(-log(datum.value)/LN10) % 10 + 1)"}}
 },
 "layer": [
  {"mark": {"type": "line", "strokeWidth": 2}, "encoding": {"color": {"field": "series", "type": "nominal", "scale": {"domain": ["0 s","100 s","900 s","1800 s","3600 s"], "range": ["#000000","#ff0000","#00ee00","#0000ff","#800080"]}, "legend": null}}},
  {"mark": {"type": "point", "filled": false, "fill": "white", "size": 42, "strokeWidth": 1, "opacity": 1}, "encoding": {"color": {"field": "series", "type": "nominal", "scale": {"domain": ["0 s","100 s","900 s","1800 s","3600 s"], "range": ["#000000","#ff0000","#00ee00","#0000ff","#800080"]}, "legend": null}, "shape": {"field": "series", "type": "nominal", "scale": {"domain": ["0 s","100 s","900 s","1800 s","3600 s"], "range": ["M-1,-1H1V1H-1ZM0,-1V1M0.25,-1V1M0.5,-1V1M0.75,-1V1","M1,0A1,1,0,1,1,-1,0A1,1,0,1,1,1,0ZM0,-1V1M0.25,-0.97V0.97M0.5,-0.87V0.87M0.75,-0.66V0.66","M-1,-0.8H1L0,1ZM0,-0.8V1M0.25,-0.8V0.55M0.5,-0.8V0.1M0.75,-0.8V-0.35","M0,-1.2L1,0L0,1.2L-1,0ZM0,-1.2V1.2M0.25,-0.9V0.9M0.5,-0.6V0.6M0.75,-0.3V0.3","M0,-1.15L0.27,-0.37L1.09,-0.36L0.44,0.14L0.68,0.93L0,0.46L-0.68,0.93L-0.44,0.14L-1.09,-0.36L-0.27,-0.37ZM0,-1.15V0.46M0.2,-0.37V0.6M0.4,-0.37V0.2"]}, "legend": null}}},
  {"transform": [{"filter": "false"}], "mark": {"type": "point", "filled": false, "fill": "white", "size": 42, "strokeWidth": 2.5}, "encoding": {"color": {"field": "series", "type": "nominal", "scale": {"domain": ["0 s","100 s","900 s","1800 s","3600 s"], "range": ["#000000","#ff0000","#00ee00","#0000ff","#800080"]}, "legend": {"title": null, "orient": "none", "legendX": 33, "legendY": 14, "symbolStrokeWidth": 2.5}}, "shape": {"field": "series", "type": "nominal", "scale": {"domain": ["0 s","100 s","900 s","1800 s","3600 s"], "range": ["M-6.5,0H-1.3M1.3,0H6.5M-1,-1H1V1H-1ZM0,-1V1M0.25,-1V1M0.5,-1V1M0.75,-1V1","M-6.5,0H-1.3M1.3,0H6.5M1,0A1,1,0,1,1,-1,0A1,1,0,1,1,1,0ZM0,-1V1M0.25,-0.97V0.97M0.5,-0.87V0.87M0.75,-0.66V0.66","M-6.5,0H-1.3M1.3,0H6.5M-1,-0.8H1L0,1ZM0,-0.8V1M0.25,-0.8V0.55M0.5,-0.8V0.1M0.75,-0.8V-0.35","M-6.5,0H-1.3M1.3,0H6.5M0,-1.2L1,0L0,1.2L-1,0ZM0,-1.2V1.2M0.25,-0.9V0.9M0.5,-0.6V0.6M0.75,-0.3V0.3","M-6.5,0H-1.3M1.3,0H6.5M0,-1.15L0.27,-0.37L1.09,-0.36L0.44,0.14L0.68,0.93L0,0.46L-0.68,0.93L-0.44,0.14L-1.09,-0.36L-0.27,-0.37ZM0,-1.15V0.46M0.2,-0.37V0.6M0.4,-0.37V0.2"]}, "legend": {"title": null, "orient": "none", "legendX": 33, "legendY": 14, "symbolStrokeWidth": 2.5}}}}
 ],
 "resolve": {"scale": {"color": "independent", "shape": "independent"}}
}
]
}
